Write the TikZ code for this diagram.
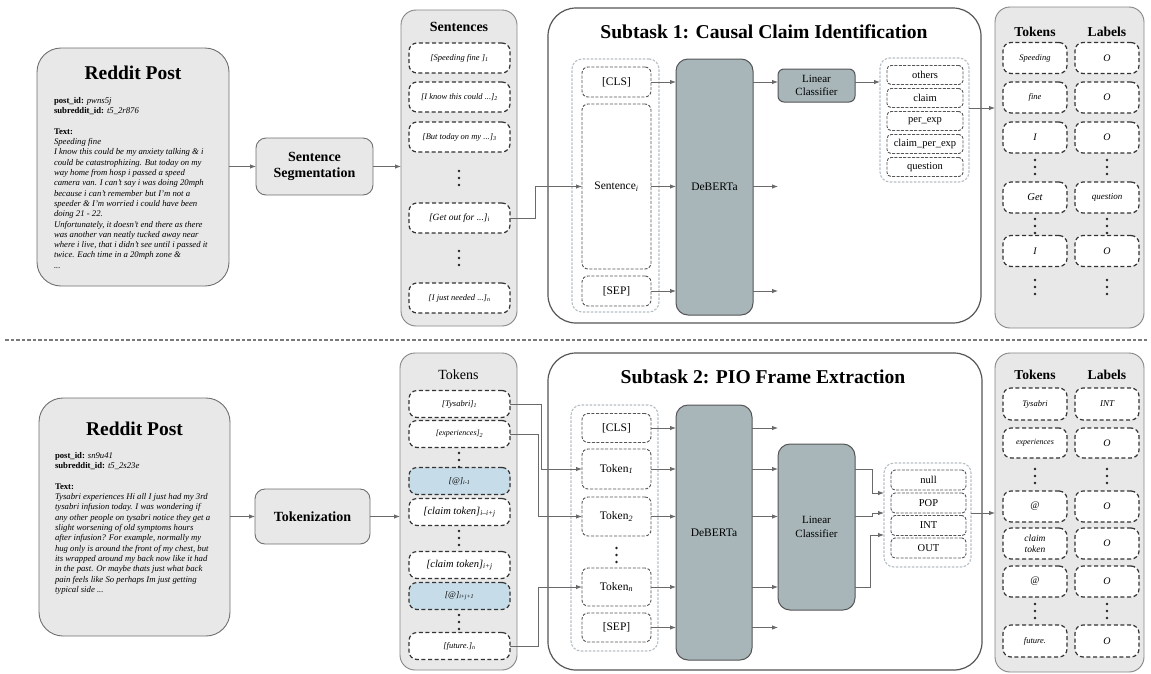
\documentclass[tikz,border=0pt]{standalone}
\usepackage{fontspec}
\setmainfont{Liberation Serif}
\usetikzlibrary{arrows.meta}
\definecolor{boxfill}{HTML}{E8E8E8}
\definecolor{postline}{HTML}{707070}
\definecolor{colline}{HTML}{858585}
\definecolor{subline}{HTML}{555555}
\definecolor{modelfill}{HTML}{A8B6BA}
\definecolor{lightdash}{HTML}{B6C0C4}
\definecolor{inline}{HTML}{555555}
\definecolor{darkdash}{HTML}{333333}
\definecolor{bluefill}{HTML}{C6DCE8}
\definecolor{arrowc}{HTML}{6A6A6A}
\definecolor{dotc}{HTML}{222222}
\definecolor{sepc}{HTML}{7A7A7A}
\newcommand\fs[2]{\fontsize{#1}{#2}\selectfont}
\newcommand\vd[2]{\foreach \dd in {-7,0,7}{\fill[dotc] (#1,#2+\dd) circle[radius=1.4pt];}}
\begin{document}
\begin{tikzpicture}[x=1pt,y=-1pt,
  every node/.style={inner sep=0pt, outer sep=0pt},
  post/.style={draw=postline, fill=boxfill, line width=0.9pt, rounded corners=24pt},
  proc/.style={draw=postline, fill=boxfill, line width=0.9pt, rounded corners=10pt, align=center, font=\fs{14}{16}\bfseries},
  col/.style={draw=colline, fill=boxfill, line width=0.9pt, rounded corners=15pt},
  subtask/.style={draw=subline, fill=white, line width=1.2pt, rounded corners=28pt},
  model/.style={draw=subline, fill=modelfill, line width=1pt, rounded corners=12pt, align=center, font=\fs{11.5}{13.5}},
  lcont/.style={draw=lightdash, dash pattern=on 2.5pt off 1.5pt, line width=1.1pt, rounded corners=10pt, fill=white},
  ibox/.style={draw=inline, dash pattern=on 3pt off 1.6pt, line width=0.9pt, rounded corners=6pt, fill=white, font=\fs{11.5}{13}},
  obox/.style={draw=inline, dash pattern=on 3pt off 1.4pt, line width=0.9pt, rounded corners=4pt, fill=white, font=\fs{10.5}{12}},
  cbox/.style={draw=darkdash, dash pattern=on 4pt off 2.6pt, line width=1.2pt, rounded corners=8pt, fill=white, align=center},
  hilite/.style={fill=bluefill},
  arr/.style={draw=arrowc, line width=0.9pt, -{Latex[length=6pt,width=4.5pt]}},
  sepl/.style={draw=sepc, line width=1.3pt, dash pattern=on 3.5pt off 2pt},
]
\useasboundingbox (0,0) rectangle (1151,673);
\fill[white] (0,0) rectangle (1151,673);

%================ TOP ================
\node[post, minimum width=192pt, minimum height=238pt] (postA) at (133,167) {};
\node[font=\fs{19.5}{22}\bfseries] (postAt) at (133,73) {Reddit Post};
\node[anchor=north west, align=left, font=\fs{8.7}{10.33}\itshape] (postAb) at (54,97) {%
{\upshape\bfseries post\_id:} pwns5j\\
{\upshape\bfseries subreddit\_id:} t5\_2r876\\[10.33pt]
{\upshape\bfseries Text:}\\
Speeding fine\\
I know this could be my anxiety talking \& i\\
could be catastrophizing. But today on my\\
way home from hosp i passed a speed\\
camera van. I can't say i was doing 20mph\\
because i can't remember but I'm not a\\
speeder \& I'm worried i could have been\\
doing 21 - 22.\\
Unfortunately, it doesn't end there as there\\
was another van neatly tucked away near\\
where i live, that i didn't see until i passed it\\
twice. Each time in a 20mph zone \&\\
...};

\node[proc, minimum width=117pt, minimum height=57pt] (seg) at (314.5,166.5) {Sentence\\Segmentation};

\node[col, minimum width=116pt, minimum height=316pt] (colS) at (459,168) {};
\node[font=\fs{14}{16}\bfseries] (hS) at (459,27) {Sentences};
\node[cbox, minimum width=101pt, minimum height=30pt, font=\fs{8.5}{10}\itshape] (s1) at (459.5,58) {[Speeding fine ]\textsubscript{1}};
\node[cbox, minimum width=101pt, minimum height=30pt, font=\fs{8.5}{10}\itshape] (s2) at (459.5,97) {[I know this could ...]\textsubscript{2}};
\node[cbox, minimum width=101pt, minimum height=30pt, font=\fs{8.5}{10}\itshape] (s3) at (459.5,137) {[But today on my ...]\textsubscript{3}};
\node[cbox, minimum width=101pt, minimum height=30pt, font=\fs{9.5}{11}\itshape] (s4) at (459.5,218) {[Get out for ...]\textsubscript{i}};
\node[cbox, minimum width=101pt, minimum height=30pt, font=\fs{8.5}{10}\itshape] (s5) at (459.5,298) {[I just needed ...]\textsubscript{n}};
\vd{459}{178}
\vd{459}{258}

\node[subtask, minimum width=433pt, minimum height=315pt] (sub1) at (764.5,165.5) {};
\node[font=\fs{19.6}{22}\bfseries] (title1) at (764,32) {Subtask 1: Causal Claim Identification};
\node[lcont, minimum width=87pt, minimum height=253pt] (c1) at (615.5,185.5) {};
\node[ibox, minimum width=69pt, minimum height=30pt] (cls1) at (616.5,82) {[CLS]};
\node[ibox, minimum width=69pt, minimum height=165pt] (snt1) at (616.5,186.5) {Sentence\textsubscript{\textit{i}}};
\node[ibox, minimum width=69pt, minimum height=30pt] (sep1) at (616.5,291) {[SEP]};
\node[model, minimum width=77pt, minimum height=256pt] (deb1) at (714.5,187) {DeBERTa};
\node[model, minimum width=77pt, minimum height=33pt, rounded corners=6pt, font=\fs{11}{13.5}] (lc1) at (816.5,85.5) {Linear\\Classifier};
\node[lcont, minimum width=89pt, minimum height=124pt] (oc1) at (924.5,120) {};
\node[obox, minimum width=76pt, minimum height=19pt] (o11) at (925,75) {others};
\node[obox, minimum width=76pt, minimum height=19pt] (o12) at (925,98) {claim};
\node[obox, minimum width=76pt, minimum height=19pt] (o13) at (925,121) {per\_exp};
\node[obox, minimum width=76pt, minimum height=19pt] (o14) at (925,144) {claim\_per\_exp};
\node[obox, minimum width=76pt, minimum height=19pt] (o15) at (925,167) {question};
\coordinate (d1o2) at (778,186.5);
\coordinate (d1o3) at (778,291);

\node[col, minimum width=149pt, minimum height=321pt] (tl1) at (1069.5,167.5) {};
\node[font=\fs{13.6}{15}\bfseries] (tk1h) at (1035,32) {Tokens};
\node[font=\fs{13.6}{15}\bfseries] (lb1h) at (1107,32) {Labels};
\node[cbox, minimum width=64pt, minimum height=31pt, font=\fs{8.5}{10}\itshape] (a1) at (1035,58) {Speeding};
\node[cbox, minimum width=64pt, minimum height=31pt, font=\fs{10}{11}\itshape] (b1) at (1107,58) {O};
\node[cbox, minimum width=64pt, minimum height=31pt, font=\fs{8.5}{10}\itshape] (a2) at (1035,97.5) {fine};
\node[cbox, minimum width=64pt, minimum height=31pt, font=\fs{10}{11}\itshape] (b2) at (1107,97.5) {O};
\node[cbox, minimum width=64pt, minimum height=31pt, font=\fs{10}{11}\itshape] (a3) at (1035,137.5) {I};
\node[cbox, minimum width=64pt, minimum height=31pt, font=\fs{10}{11}\itshape] (b3) at (1107,137.5) {O};
\node[cbox, minimum width=64pt, minimum height=31pt, font=\fs{10.5}{12}\itshape] (a4) at (1035,197.5) {Get};
\node[cbox, minimum width=64pt, minimum height=31pt, font=\fs{9}{11}\itshape] (b4) at (1107,197.5) {question};
\node[cbox, minimum width=64pt, minimum height=31pt, font=\fs{10}{11}\itshape] (a5) at (1035,251) {I};
\node[cbox, minimum width=64pt, minimum height=31pt, font=\fs{10}{11}\itshape] (b5) at (1107,251) {O};
\vd{1035}{167}\vd{1107}{167}
\vd{1035}{226}\vd{1107}{226}
\vd{1035}{287}\vd{1107}{287}

\coordinate (j1) at (0,108);
\draw[arr] (postA.east |- seg.west) -- (seg.west);
\draw[arr] (seg.east) -- (seg.east -| colS.west);
\draw[arr] (s4.east) -- ++(25,0) |- (snt1.west);
\draw[arr] (cls1.east) -- (cls1.east -| deb1.west);
\draw[arr] (snt1.east) -- (snt1.east -| deb1.west);
\draw[arr] (sep1.east) -- (sep1.east -| deb1.west);
\draw[arr] (deb1.east |- cls1.east) -- (lc1.west |- cls1.east);
\draw[arr] (deb1.east |- snt1.east) -- (d1o2);
\draw[arr] (deb1.east |- sep1.east) -- (d1o3);
\draw[arr] (lc1.east |- cls1.east) -- (oc1.west |- cls1.east);
\draw[arr] (oc1.east |- j1) -- (tl1.west |- j1);

%================ SEPARATOR ================
\coordinate (sepL) at (5,340);
\coordinate (sepR) at (1148,340);
\draw[sepl] (sepL) -- (sepR);

%================ BOTTOM ================
\node[post, minimum width=191pt, minimum height=238pt] (postB) at (134.5,517) {};
\node[font=\fs{19.5}{22}\bfseries] (postBt) at (134.5,429) {Reddit Post};
\node[anchor=north west, align=left, font=\fs{8.7}{10.33}\itshape] (postBb) at (55,452) {%
{\upshape\bfseries post\_id:} sn9u41\\
{\upshape\bfseries subreddit\_id:} t5\_2s23e\\[10.33pt]
{\upshape\bfseries Text:}\\
Tysabri experiences Hi all I just had my 3rd\\
tysabri infusion today. I was wondering if\\
any other people on tysabri notice they get a\\
slight worsening of old symptoms hours\\
after infusion? For example, normally my\\
hug only is around the front of my chest, but\\
its wrapped around my back now like it had\\
in the past. Or maybe thats just what back\\
pain feels like So perhaps Im just getting\\
typical side ...};

\node[proc, minimum width=115pt, minimum height=55pt] (tokz) at (312.5,516.5) {Tokenization};

\node[col, minimum width=117pt, minimum height=317pt] (colT) at (458.5,511.5) {};
\node[font=\fs{14}{16}] (hT) at (458.5,375) {Tokens};
\node[cbox, minimum width=101pt, minimum height=27pt, font=\fs{8.5}{10}\itshape] (t1) at (459.5,404) {[Tysabri]\textsubscript{1}};
\node[cbox, minimum width=101pt, minimum height=27pt, font=\fs{8}{10}\itshape] (t2) at (459.5,434) {[experiences]\textsubscript{2}};
\node[cbox, hilite, minimum width=101pt, minimum height=27pt, font=\fs{8.5}{10}\itshape] (t3) at (459.5,481) {[@]\textsubscript{i-1}};
\node[cbox, minimum width=101pt, minimum height=27pt, font=\fs{10.5}{12}\itshape] (t4) at (459.5,512) {[claim token]\textsubscript{i--i+j}};
\node[cbox, minimum width=101pt, minimum height=27pt, font=\fs{10.5}{12}\itshape] (t5) at (459.5,565) {[claim token]\textsubscript{i+j}};
\node[cbox, hilite, minimum width=101pt, minimum height=27pt, font=\fs{8.5}{10}\itshape] (t6) at (459.5,596) {[@]\textsubscript{i+j+1}};
\node[cbox, minimum width=101pt, minimum height=27pt, font=\fs{8.5}{10}\itshape] (t7) at (459.5,646) {[future.]\textsubscript{n}};
\vd{459}{460}
\vd{459}{538}
\vd{459}{622}

\node[subtask, minimum width=434pt, minimum height=317pt] (sub2) at (765,511.5) {};
\node[font=\fs{19.6}{22}\bfseries] (title2) at (763,377) {Subtask 2: PIO Frame Extraction};
\node[lcont, minimum width=87pt, minimum height=246pt] (c2) at (614.5,528) {};
\node[ibox, minimum width=69pt, minimum height=29pt] (cls2) at (616.5,428) {[CLS]};
\node[ibox, minimum width=69pt, minimum height=40pt] (tk1) at (616.5,469) {Token\textsubscript{\textit{1}}};
\node[ibox, minimum width=69pt, minimum height=39pt] (tk2) at (616.5,516.5) {Token\textsubscript{\textit{2}}};
\node[ibox, minimum width=69pt, minimum height=38pt] (tkn) at (616.5,587) {Token\textsubscript{\textit{n}}};
\node[ibox, minimum width=69pt, minimum height=29pt] (sep2) at (616.5,627.5) {[SEP]};
\vd{616.5}{555}
\node[model, minimum width=76pt, minimum height=255pt] (deb2) at (714,532.5) {DeBERTa};
\node[model, minimum width=77pt, minimum height=166pt, font=\fs{11}{13.5}] (lc2) at (816.5,527) {Linear\\Classifier};
\node[lcont, minimum width=87pt, minimum height=104pt] (oc2) at (927.5,515) {};
\node[obox, minimum width=75pt, minimum height=20pt] (o21) at (928.5,480) {null};
\node[obox, minimum width=75pt, minimum height=20pt] (o22) at (928.5,503) {POP};
\node[obox, minimum width=75pt, minimum height=20pt] (o23) at (928.5,525.5) {INT};
\node[obox, minimum width=75pt, minimum height=20pt] (o24) at (928.5,548) {OUT};
\coordinate (d2o1) at (778,428);
\coordinate (d2o5) at (778,627.5);

\node[col, minimum width=149pt, minimum height=319pt] (tl2) at (1069.5,512.5) {};
\node[font=\fs{13.6}{15}\bfseries] (tk2h) at (1035,375) {Tokens};
\node[font=\fs{13.6}{15}\bfseries] (lb2h) at (1107,375) {Labels};
\node[cbox, minimum width=64pt, minimum height=32pt, font=\fs{8.5}{10}\itshape] (c21) at (1035,404) {Tysabri};
\node[cbox, minimum width=64pt, minimum height=32pt, font=\fs{9}{10}\itshape] (e21) at (1107,404) {INT};
\node[cbox, minimum width=64pt, minimum height=30pt, font=\fs{8}{10}\itshape] (c22) at (1035,443) {experiences};
\node[cbox, minimum width=64pt, minimum height=30pt, font=\fs{10}{11}\itshape] (e22) at (1107,443) {O};
\node[cbox, minimum width=64pt, minimum height=31pt, font=\fs{10}{11}\itshape] (c23) at (1035,506.5) {@};
\node[cbox, minimum width=64pt, minimum height=31pt, font=\fs{10}{11}\itshape] (e23) at (1107,506.5) {O};
\node[cbox, minimum width=64pt, minimum height=31pt, font=\fs{9.5}{10.5}\itshape] (c24) at (1035,543.5) {claim\\token};
\node[cbox, minimum width=64pt, minimum height=31pt, font=\fs{10}{11}\itshape] (e24) at (1107,543.5) {O};
\node[cbox, minimum width=64pt, minimum height=31pt, font=\fs{10}{11}\itshape] (c25) at (1035,581.5) {@};
\node[cbox, minimum width=64pt, minimum height=31pt, font=\fs{10}{11}\itshape] (e25) at (1107,581.5) {O};
\node[cbox, minimum width=64pt, minimum height=32pt, font=\fs{8.5}{10}\itshape] (c26) at (1035,641) {future.};
\node[cbox, minimum width=64pt, minimum height=32pt, font=\fs{10}{11}\itshape] (e26) at (1107,641) {O};
\vd{1035}{476}\vd{1107}{476}
\vd{1035}{611}\vd{1107}{611}

\coordinate (j2) at (0,513);
\draw[arr] (postB.east |- tokz.west) -- (tokz.west);
\draw[arr] (tokz.east) -- (tokz.east -| colT.west);
\draw[arr] (t1.east) -- ++(31,0) |- (tk1.west);
\draw[arr] (t2.east) -- ++(28,0) |- (tk2.west);
\draw[arr] (t7.east) -- ++(28,0) |- (tkn.west);
\draw[arr] (cls2.east) -- (cls2.east -| deb2.west);
\draw[arr] (tk1.east) -- (tk1.east -| deb2.west);
\draw[arr] (tk2.east) -- (tk2.east -| deb2.west);
\draw[arr] (tkn.east) -- (tkn.east -| deb2.west);
\draw[arr] (sep2.east) -- (sep2.east -| deb2.west);
\draw[arr] (deb2.east |- cls2.east) -- (d2o1);
\draw[arr] (deb2.east |- tk1.east) -- (lc2.west |- tk1.east);
\draw[arr] (deb2.east |- tk2.east) -- (lc2.west |- tk2.east);
\draw[arr] (deb2.east |- tkn.east) -- (lc2.west |- tkn.east);
\draw[arr] (deb2.east |- sep2.east) -- (d2o5);
\draw[arr] (lc2.east |- tk1.east) -- ++(17,0) |- ([yshift=22pt]oc2.west);
\draw[arr] (lc2.east |- tk2.east) -- ++(17,0) |- ([yshift=2pt]oc2.west);
\draw[arr] (lc2.east |- tkn.east) -- ++(15,0) |- ([yshift=-20pt]oc2.west);
\draw[arr] (oc2.east |- j2) -- (tl2.west |- j2);
\end{tikzpicture}
\end{document}
